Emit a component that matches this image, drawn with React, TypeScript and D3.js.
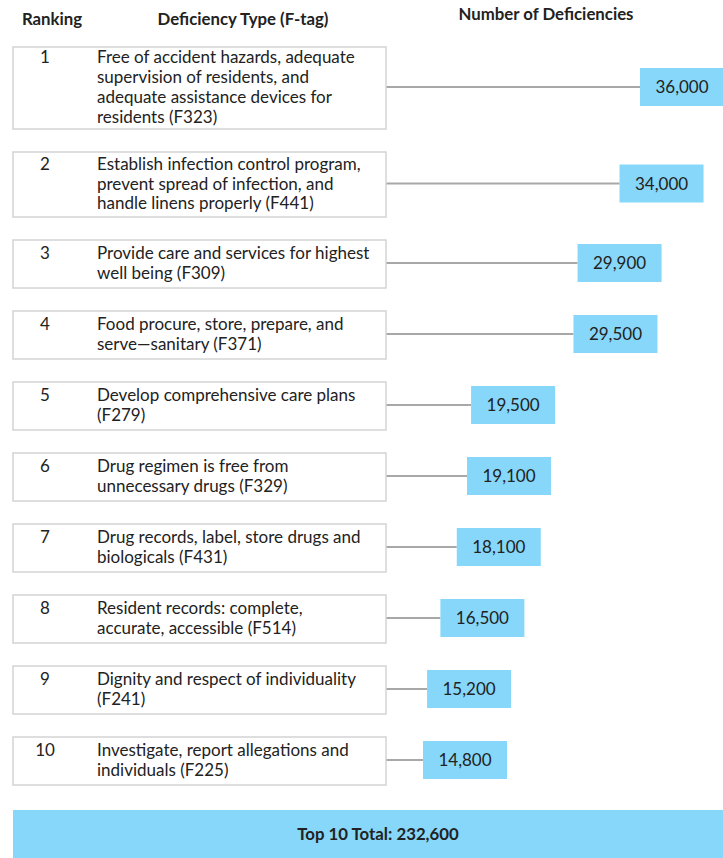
import React, { useRef, useEffect } from 'react';
import * as d3 from 'd3';

// data
const ranks = [1, 2, 3, 4, 5, 6, 7, 8, 9, 10];
const descriptions = [
    ['Free of accident hazards, adequate', 'supervision of residents, and', 'adequate assistance devices for', 'residents (F323)'],
    ['Establish infection control program,', 'prevent spread of infection, and', 'handle linens properly (F441)'],
    ['Provide care and services for highest', 'well being (F309)'],
    ['Food procure, store, prepare, and', 'serve\u2014sanitary (F371)'],
    ['Develop comprehensive care plans', '(F279)'],
    ['Drug regimen is free from', 'unnecessary drugs (F329)'],
    ['Drug records, label, store drugs and', 'biologicals (F431)'],
    ['Resident records: complete,', 'accurate, accessible (F514)'],
    ['Dignity and respect of individuality', '(F241)'],
    ['Investigate, report allegations and', 'individuals (F225)'],
];
const counts = [36000, 34000, 29900, 29500, 19500, 19100, 18100, 16500, 15200, 14800];
const headers = ['Ranking', 'Deficiency Type (F-tag)', 'Number of Deficiencies'];
const totalLabel = 'Top 10 Total: ';

const FONT = 'Lato, "Open Sans", sans-serif';
const BLUE = '#86d7f9';

export default function App() {
    const chartRef = useRef(null);
    const width = 723, height = 858;

    useEffect(() => {
        const svg = d3.select(chartRef.current);
        svg.selectAll('*').remove();

        const boxLeft = 13, boxRight = 386;
        const lineH = 19.7;
        const gap = 23;
        const valW = 84, valH = 38;

        // row layout: box height from number of text lines
        const heights = descriptions.map(d => d.length * 17 + 14);
        const tops = [];
        let y = 47;
        heights.forEach(h => { tops.push(y); y += h + gap; });

        // horizontal position of the value box follows the count
        const xScale = d3.scaleLinear()
            .domain(d3.extent(counts))
            .range([423, 640]);

        const fmt = d3.format(',');

        // headers
        svg.append('text').attr('class', 'hdr').attr('x', 52).attr('y', 25).attr('text-anchor', 'middle')
            .text(headers[0]);
        svg.append('text').attr('class', 'hdr').attr('x', 243).attr('y', 25).attr('text-anchor', 'middle')
            .text(headers[1]);
        svg.append('text').attr('class', 'hdr').attr('x', 546).attr('y', 20).attr('text-anchor', 'middle')
            .text(headers[2]);

        const rows = svg.selectAll('g.row').data(ranks).join('g')
            .attr('class', 'row')
            .attr('transform', (d, i) => `translate(0,${tops[i]})`);

        // connector lines
        rows.append('line')
            .attr('x1', boxRight)
            .attr('x2', (d, i) => xScale(counts[i]))
            .attr('y1', (d, i) => heights[i] / 2 - 1)
            .attr('y2', (d, i) => heights[i] / 2 - 1)
            .attr('stroke', '#a8a8a8')
            .attr('stroke-width', 2);

        rows.append('rect')
            .attr('x', boxLeft).attr('y', 0)
            .attr('width', boxRight - boxLeft)
            .attr('height', (d, i) => heights[i])
            .attr('fill', '#fff')
            .attr('stroke', '#d4d4d4')
            .attr('stroke-width', 1.5);

        // rank numbers and descriptions
        rows.each(function (d, i) {
            const g = d3.select(this);
            const lines = descriptions[i];
            const firstY = heights[i] / 2 - (lines.length - 1) * lineH / 2 + 5;
            g.append('text')
                .attr('x', 45).attr('y', firstY)
                .attr('text-anchor', 'middle')
                .text(d);
            g.selectAll('text.desc').data(lines).join('text')
                .attr('class', 'desc')
                .attr('x', 97)
                .attr('y', (t, j) => firstY + j * lineH)
                .text(t => t);
        });

        // value boxes
        rows.append('rect')
            .attr('x', (d, i) => xScale(counts[i]))
            .attr('y', (d, i) => heights[i] / 2 - valH / 2 - 1)
            .attr('width', valW)
            .attr('height', valH)
            .attr('fill', BLUE);

        rows.append('text')
            .attr('x', (d, i) => xScale(counts[i]) + valW / 2)
            .attr('y', (d, i) => heights[i] / 2 + 5)
            .attr('text-anchor', 'middle')
            .text((d, i) => fmt(counts[i]));

        // total banner
        svg.append('rect')
            .attr('x', boxLeft).attr('y', 810)
            .attr('width', width - boxLeft).attr('height', 48)
            .attr('fill', BLUE);
        svg.append('text')
            .attr('class', 'hdr')
            .attr('x', 378).attr('y', 840)
            .attr('text-anchor', 'middle')
            .text(totalLabel + fmt(d3.sum(counts)));

        svg.selectAll('text')
            .style('font-family', FONT)
            .style('font-size', '17px')
            .attr('fill', '#222');
        svg.selectAll('text.hdr')
            .style('font-weight', 'bold')
            .style('font-size', '16.8px');

    }, []);

    return (
        <div>
            <svg width={width} height={height} ref={chartRef}
                style={{ position: 'absolute', left: 0, top: 0, background: '#fff' }} />
        </div>
    );
}
